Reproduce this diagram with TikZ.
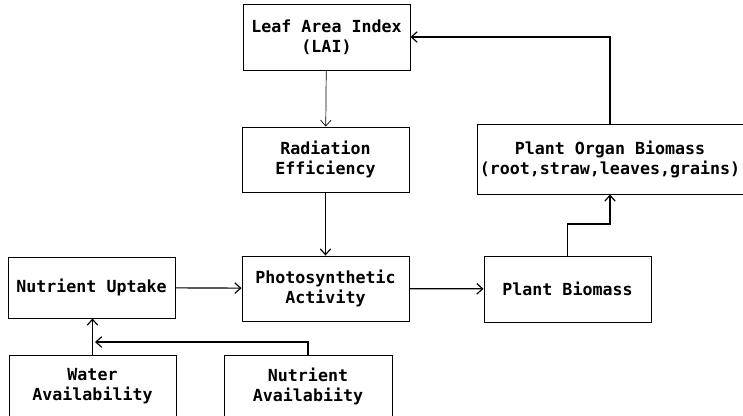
\documentclass[tikz,border=0pt]{standalone}
\usepackage{fontspec}
\setmonofont{DejaVu Sans Mono}
\usetikzlibrary{arrows.meta}
\usetikzlibrary{positioning}
\tikzset{box/.style = {draw, thick, align = center, inner sep = 0,
                       font = \ttfamily\bfseries\fontsize{14.2}{17}\selectfont,
                       minimum width = 5.01cm, minimum height = 1.95cm}}
\tikzset{conn/.style = {-{Straight Barb[length=5pt, width=9pt]}, line width = 1pt}}
\tikzset{thinconn/.style = {conn, line width = 0.6pt}}

\begin{document}
\begin{tikzpicture}[x = 0.03cm, y = -0.03cm]
      \useasboundingbox (0, 0) rectangle (743, 416);
      \node [box, minimum height = 1.98cm] (lai) at (326.5, 37) {Leaf Area Index\\(LAI)};
      \node [box] (rad) at (325.5, 159.5) {Radiation\\Efficiency};
      \node [box] (photo) at (325.5, 288.5) {Photosynthetic\\Activity};
      \node [box, minimum height = 1.83cm] (uptake) at (91.5, 287.5) {Nutrient Uptake};
      \node [box, minimum height = 1.98cm] (biomass) at (567.5, 289) {Plant Biomass};
      \node [box, minimum width = 7.98cm, minimum height = 2.1cm] (organ) at (610, 159)
            {Plant Organ Biomass\\(root,straw,leaves,grains)};
      \node [box, minimum height = 1.86cm] (water) at (92.5, 386) {Water\\Availability};
      \node [box, minimum width = 5.04cm, minimum height = 1.86cm] (nutavail) at (308, 386)
            {Nutrient\\Availabiity};
      \coordinate (elbow) at (567.5, 224);
      \coordinate (join) at (95, 342);
      \draw [thinconn] (lai) -- (rad);
      \draw [conn] (rad) -- (photo);
      \draw [conn] (uptake) -- (photo);
      \draw [conn] (photo) -- (biomass);
      \draw [conn] (biomass.north) -- (elbow) -| (organ.south);
      \draw [conn] (organ.north) |- (lai.east);
      \draw [conn] (water.north) -- (water.north |- uptake.south);
      \draw [conn] (nutavail.north) |- (join);
    \end{tikzpicture}
\end{document}
